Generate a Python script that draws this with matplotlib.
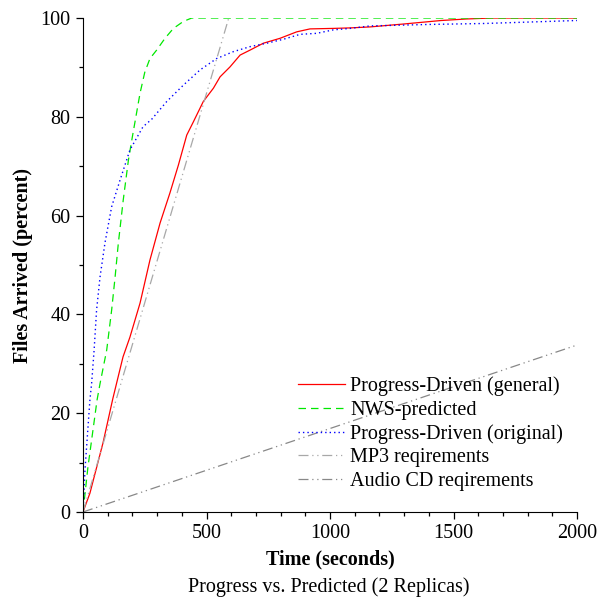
import matplotlib.pyplot as plt
from matplotlib.ticker import MultipleLocator

# values
general_t = [0, 28, 81, 121, 162, 190, 231, 271, 312, 352, 386, 420, 447, 487, 528, 555,
             595, 636, 676, 730, 798, 865, 919, 1013, 1081, 1162, 1300, 1450, 1550, 1650, 2000]
general_pct = [0, 3.8, 14, 23, 31.4, 35.4, 42.3, 51, 58.5, 64.6, 70.2, 76.3, 79, 83.1, 85.8, 88.1,
               90.1, 92.5, 93.5, 94.9, 95.9, 97.2, 97.8, 97.9, 98.0, 98.2, 98.8, 99.5, 99.8, 100, 100]

nws_t = [0, 20, 57, 69, 96, 116, 130, 143, 163, 184, 200, 231, 250, 271, 298, 332,
         366, 406, 440, 2000]
nws_pct = [0, 9.1, 22.7, 26, 32.8, 40.9, 47.6, 54.4, 63.2, 71.3, 76, 84.8, 89, 91.8, 93.5, 95.9,
           97.9, 99.3, 100, 100]

orig_t = [0, 8, 28, 35, 45, 55, 69, 89, 116, 150, 190, 243, 278, 339, 406, 474, 541,
          609, 676, 744, 811, 879, 946, 1013, 1081, 1162, 1400, 1628, 2000]
orig_pct = [0, 8.5, 22.7, 26.1, 32.8, 40.9, 47.6, 54.5, 61.8, 67.2, 73.3, 78, 79.5, 83.1, 86.4, 89.5, 91.8,
            93.2, 94.2, 94.9, 95.7, 96.7, 96.9, 97.6, 97.9, 98.4, 98.7, 98.9, 99.5]

mp3_t = [0, 590]
mp3_pct = [0, 100]

cd_t = [0, 2000]
cd_pct = [0, 33.8]

plt.rcParams['font.family'] = ['Liberation Serif', 'DejaVu Serif']
fs = 14.5

fig = plt.figure(figsize=(5.98, 6.01), dpi=100)
ax = fig.add_axes([0.1388, 0.1481, 0.8261, 0.8219])

ax.plot(general_t, general_pct, color='#ff0000', lw=0.9, label='Progress-Driven (general)')
ax.plot(nws_t, nws_pct, color='#00e800', lw=0.9, linestyle=(0, (6, 4)), label='NWS-predicted')
ax.plot(orig_t, orig_pct, color='#0000ff', lw=1.0, linestyle=(0, (1, 2.2)),
        label='Progress-Driven (original)')
ax.plot(mp3_t, mp3_pct, color='#a8a8a8', lw=0.9, linestyle=(0, (8, 3, 1, 3, 1, 3)),
        label='MP3 reqirements')
ax.plot(cd_t, cd_pct, color='#888888', lw=0.9, linestyle=(0, (8, 3, 1, 3, 1, 3)),
        label='Audio CD reqirements')

ax.set_xlim(0, 2000)
ax.set_ylim(0, 100)
ax.xaxis.set_major_locator(MultipleLocator(500))
ax.xaxis.set_minor_locator(MultipleLocator(100))
ax.yaxis.set_major_locator(MultipleLocator(20))
ax.yaxis.set_minor_locator(MultipleLocator(10))
ax.tick_params(which='major', length=5, width=0.9, labelsize=fs, pad=4)
ax.tick_params(which='minor', length=3, width=0.9)
ax.spines['top'].set_visible(False)
ax.spines['right'].set_visible(False)

ax.set_xlabel('Time (seconds)', fontsize=fs, fontweight='bold', labelpad=4)
ax.set_ylabel('Files Arrived (percent)', fontsize=fs, fontweight='bold', labelpad=5)
fig.text(0.549, 0.0233, 'Progress vs. Predicted (2 Replicas)', ha='center', va='center', fontsize=fs)

ax.legend(loc='upper left', bbox_to_anchor=(0.415, 0.295), frameon=False, fontsize=fs,
          handlelength=2.35, handletextpad=0.25, labelspacing=0.22, borderpad=0)

fig.savefig('out.png', dpi=100)
